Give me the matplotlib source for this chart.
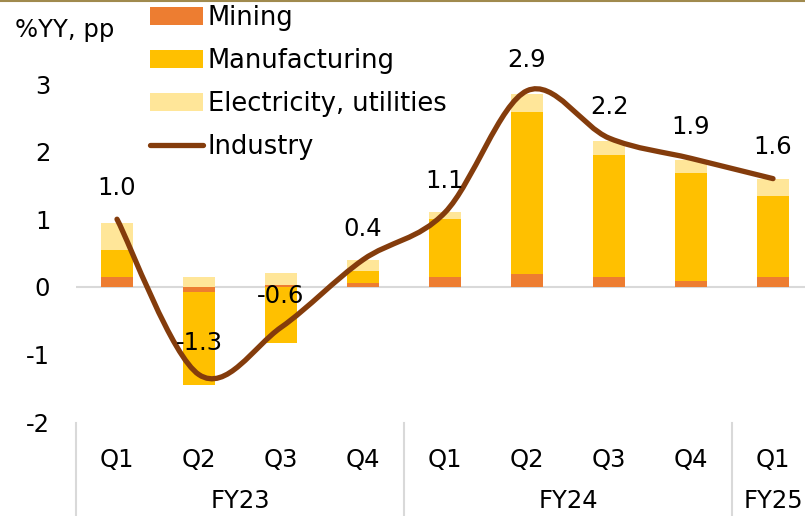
import numpy as np
import matplotlib.pyplot as plt
from matplotlib.path import Path
from matplotlib.patches import PathPatch
import matplotlib.transforms as mtransforms

plt.rcParams['font.family'] = ['DejaVu Sans']

quarters = ['Q1', 'Q2', 'Q3', 'Q4', 'Q1', 'Q2', 'Q3', 'Q4', 'Q1']
years = ['FY23', 'FY24', 'FY25']
year_spans = [(0, 3), (4, 7), (8, 8)]

mining = [0.14, -0.08, 0.02, 0.06, 0.15, 0.19, 0.14, 0.09, 0.15]
manufacturing = [0.41, -1.38, -0.83, 0.18, 0.86, 2.40, 1.81, 1.59, 1.19]
electricity = [0.40, 0.15, 0.18, 0.16, 0.09, 0.26, 0.20, 0.20, 0.25]
industry = [1.0, -1.3, -0.6, 0.4, 1.1, 2.9, 2.2, 1.9, 1.6]

c_min = '#ED7D31'
c_man = '#FFC000'
c_ele = '#FFE699'
c_ind = '#843C0C'

W, H = 805, 516
fig = plt.figure(figsize=(W / 100, H / 100), dpi=100)
ax = fig.add_axes([76 / W, (H - 422) / H, 1 - 76 / W, 338 / H])

x = np.arange(len(quarters))
pos = np.zeros(len(x))
neg = np.zeros(len(x))
handles = []
for vals, col, lab in [(mining, c_min, 'Mining'),
                       (manufacturing, c_man, 'Manufacturing'),
                       (electricity, c_ele, 'Electricity, utilities')]:
    v = np.array(vals)
    bottom = np.where(v >= 0, pos, neg)
    b = ax.bar(x, v, 0.4, bottom=bottom, color=col, label=lab, zorder=2)
    handles.append(b)
    pos = pos + np.where(v >= 0, v, 0)
    neg = neg + np.where(v < 0, v, 0)

# smoothed line (Catmull-Rom as bezier segments)
pts = np.column_stack([x, industry]).astype(float)
ext = np.vstack([pts[0], pts, pts[-1]])
verts = [tuple(pts[0])]
codes = [Path.MOVETO]
for i in range(1, len(ext) - 2):
    p0, p1, p2, p3 = ext[i - 1], ext[i], ext[i + 1], ext[i + 2]
    verts += [tuple(p1 + (p2 - p0) / 6), tuple(p2 - (p3 - p1) / 6), tuple(p2)]
    codes += [Path.CURVE4] * 3
ax.add_patch(PathPatch(Path(verts, codes), fill=False, edgecolor=c_ind,
                       lw=3.8, capstyle='round', zorder=3))
line, = ax.plot([], [], color=c_ind, lw=3.8, solid_capstyle='round', label='Industry')
handles.append(line)

for xi, v in zip(x, industry):
    ax.annotate(f'{v:.1f}', (xi, v), xytext=(0, 22.5), textcoords='offset points',
                ha='center', va='center', fontsize=17.5, zorder=4)

ax.axhline(0, color='#D9D9D9', lw=1.5, zorder=1)
ax.set_xlim(-0.5, 8.39)
ax.set_ylim(-2, 3)
ax.set_yticks(range(-2, 4))
ax.set_yticklabels([str(t) for t in range(-2, 4)])
ax.tick_params(axis='y', length=0, pad=18.5, labelsize=17.5)
ax.set_xticks([])
for s in ax.spines.values():
    s.set_visible(False)

trans = mtransforms.blended_transform_factory(ax.transData, ax.transAxes)
for xi, q in zip(x, quarters):
    ax.text(xi, -0.112, q, transform=trans, ha='center', va='center', fontsize=17.5)
for (a, b), yr in zip(year_spans, years):
    ax.text((a + b) / 2, -0.234, yr, transform=trans, ha='center', va='center', fontsize=17.5)
for sx in [-0.5, 3.5, 7.5]:
    ax.plot([sx, sx], [-0.003, -0.3], transform=trans, color='#D9D9D9', lw=1.5, clip_on=False)

fig.text(15 / W, 1 - 30 / H, '%YY, pp', ha='left', va='center', fontsize=17.5)

fig.legend(handles=handles, loc='upper left', bbox_to_anchor=(150 / W, 1 - 5 / H),
           frameon=False, fontsize=18.5, handlelength=2.05, handletextpad=0.2,
           labelspacing=0.66, borderpad=0, borderaxespad=0)

fig.add_artist(plt.Line2D([0, 1], [1 - 1 / H, 1 - 1 / H], transform=fig.transFigure,
                          color='#A08A4E', lw=1.5))

fig.savefig('out.png', dpi=100)
